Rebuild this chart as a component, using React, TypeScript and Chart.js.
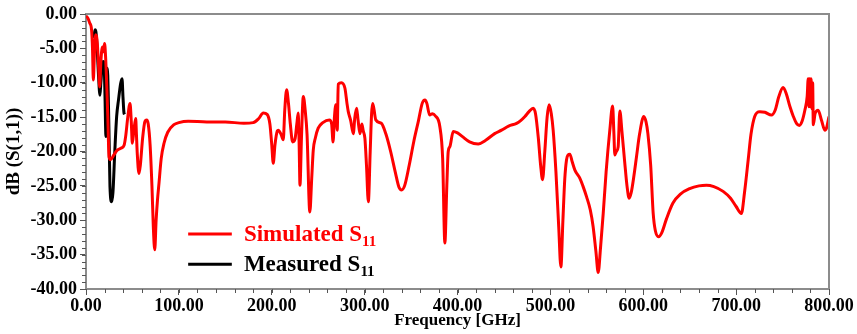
import React, { useEffect, useRef } from "react";
import { Chart, registerables } from "chart.js";

Chart.register(...registerables);

const simFreq = [
  0, 2, 4, 6, 7, 7.9, 9, 10.4, 11.3, 12.2, 13.5, 14.7, 16, 17.6, 18.8, 20, 21, 22, 23.5, 24.8,
  26.5, 30, 33.7, 38, 41, 42.7, 45, 47.4, 48.7, 49.9, 51.5, 53.5, 54.3, 55.2, 57, 58.5, 61, 63.5,
  65.3, 67, 69, 71, 72.5, 74, 75.5, 77, 78.6, 81, 84, 88, 94.7, 100, 110, 130, 150, 170, 180, 186,
  190.9, 195, 198, 200, 201.6, 203.5, 206, 207, 210, 212.4, 214, 216, 218, 220, 222.5, 225, 227,
  228.5, 229.5, 230.4, 232, 234, 236, 238, 241, 243, 244.7, 247, 250, 255, 262, 264.5, 266, 267.5,
  269, 270.5, 271.6, 275, 278.8, 281, 282.4, 285, 287.8, 289.5, 291.4, 293, 295, 297, 298.5, 300.3,
  302, 304, 306, 307.5, 308.6, 310, 312, 318, 323, 328, 333, 337, 339.8, 343, 348, 353, 358, 362,
  365, 367, 370, 373, 376, 381, 384, 386.4, 388.5, 390, 391.8, 395.4, 400, 405, 413, 422.3, 430,
  440, 447.4, 455, 463.6, 468, 472.6, 477, 481.5, 484, 487, 489.5, 491.6, 494, 496.5, 498.7, 501,
  503, 506, 509, 511.3, 513.5, 515.5, 517.4, 519, 521, 523.5, 526.4, 531.8, 535, 539, 543, 546,
  549, 551.5, 554, 556.9, 560, 564, 567, 568.3, 569.4, 571, 573, 574.8, 577, 580, 582.5, 584.8,
  587, 590, 592.7, 596, 600.6, 603, 605, 608, 610.7, 613, 616.5, 620, 625, 632, 640, 650, 660,
  668, 676, 686, 694, 700, 705.7, 709, 713, 716, 720, 725.5, 731, 738, 742, 746, 750.6, 754, 758,
  761.6, 765, 768, 771, 774, 776.5, 777.6, 778.4, 779.2, 780, 780.8, 781.6, 782.4, 783.1, 785,
  788.3, 792, 795.5, 797.5, 800,
];
const simDb = [
  -0.3, -0.6, -1.3, -2.3, -5, -9.6, -6, -3, -3.2, -4.3, -7.5, -10.6, -7, -4.8, -5.5, -4.3, -6, -9.1, -15, -20.8,
  -21.2, -20.5, -19.8, -19.5, -19.1, -17.8, -15, -13, -15.5, -18.8, -17, -15.2, -17.5, -20.3, -23.2, -22, -18, -15.6,
  -15.4, -16, -19, -25, -31, -34.3, -30, -27, -24.6, -21, -18.8, -17.2, -16.1, -15.8, -15.6, -15.7, -15.7, -15.9, -15.8, -15.2,
  -14.4, -14.6, -16, -19, -21.7, -19, -17, -16.9, -17.5, -18.3, -14, -11, -13, -16, -18.6, -18.2, -16,
  -14.4, -19, -24.9, -18, -12, -14, -17.5, -28.8, -24, -19.8, -18, -16.6, -15.8, -15.4, -16, -18.6, -15,
  -13.2, -16.9, -10.2, -10, -10.8, -13, -14.2, -15.5, -17.4, -15, -13.7, -15.5, -17.4, -16, -17, -18.1,
  -22, -27.3, -20, -14.5, -13, -13.8, -15.4, -15.9, -17.5, -20, -23, -25.2, -25.6, -25, -22, -18.5, -15.5, -13,
  -12.5, -13, -14.7, -14.5, -14.8, -16.4, -21, -33.3, -25, -20, -19.3, -17.1, -17.3, -17.8, -18.6, -18.9, -18.4,
  -17.4, -16.9, -16.3, -15.9, -15.5, -14.9, -14.2, -13.7, -14.5, -18, -22, -24.1, -20, -15, -13.2, -14.5,
  -16.9, -23, -31, -36.8, -30, -24, -21.2, -20.5, -20.4, -21.5, -22.7, -23.9, -25, -26.6, -28.5, -30.9,
  -34.5, -37.6, -34, -29, -23, -16.9, -13.4, -17, -20.5, -20, -19.3, -14.1, -17, -21.5, -25, -26.8,
  -26, -23.5, -20.8, -17.5, -14.9, -15.7, -17.4, -22, -29, -31.5, -32.4, -31.8, -29.8, -27.5, -26.2, -25.4, -25,
  -24.9, -25.1, -25.8, -26.8, -28, -29, -26, -21.2, -17.5, -14.9, -14.2, -14.3, -14.7, -14, -12, -10.7, -11.6, -13.5,
  -14.9, -15.9, -16.2, -15.6, -14, -12, -9.4, -13.5, -9.4, -13.5, -9.4, -13.8, -10, -16.1, -14.5,
  -14, -15.5, -16.9, -16.5, -14.9,
];

const measFreq = [
  8.5, 9.7, 10.7, 12, 13.5, 15, 16, 17.6, 18.6, 19.4, 20.3, 21.5, 22.2, 23, 24, 25, 25.8, 27.6,
  29, 31, 33, 35, 37.3, 38.8, 39.8, 40.9, 41.5,
];
const measDb = [
  -3.5, -2.3, -2.6, -5, -9, -11.8, -10, -7.2, -6.9, -7, -11, -17.8, -12, -7.9, -12, -19, -25.1, -27.3,
  -26, -20, -14.9, -12.5, -10.1, -9.4, -12, -14.4, -14.6,
];

const yTicks = [0, -5, -10, -15, -20, -25, -30, -35, -40];
const xTicks = [0, 100, 200, 300, 400, 500, 600, 700, 800];

const legendItems = [
  { label: "Simulated ", sub: "11", color: "#ff0000" },
  { label: "Measured ", sub: "11", color: "#000000" },
];

const AXIS_GRAY = "#8c8c8c";
const SERIF = "'Liberation Serif', 'Times New Roman', serif";

const framePlugin = {
  id: "frame",
  afterDraw(chart: any) {
    const { ctx, chartArea } = chart;
    const xs = chart.scales.x;
    const ys = chart.scales.y;
    ctx.save();
    ctx.strokeStyle = AXIS_GRAY;
    ctx.lineWidth = 2;
    ctx.beginPath();
    ctx.moveTo(chartArea.left, chartArea.top);
    ctx.lineTo(chartArea.right, chartArea.top);
    ctx.lineTo(chartArea.right, chartArea.bottom);
    ctx.stroke();
    // minor ticks
    ctx.lineWidth = 1;
    ctx.strokeStyle = "#555";
    ctx.beginPath();
    for (let v = -40; v <= 0; v += 1) {
      const py = Math.round(ys.getPixelForValue(v)) + 0.5;
      ctx.moveTo(chartArea.left - 4, py);
      ctx.lineTo(chartArea.left, py);
    }
    for (let v = 0; v <= 800; v += 20) {
      const px = Math.round(xs.getPixelForValue(v)) + 0.5;
      ctx.moveTo(px, chartArea.bottom);
      ctx.lineTo(px, chartArea.bottom + 4);
    }
    ctx.stroke();
    // legend
    const lx0 = xs.getPixelForValue(110);
    const lx1 = xs.getPixelForValue(157);
    const tx = xs.getPixelForValue(170);
    const rows = [-32, -36.4];
    legendItems.forEach((it, i) => {
      const py = ys.getPixelForValue(rows[i]);
      ctx.strokeStyle = it.color;
      ctx.lineWidth = 3;
      ctx.beginPath();
      ctx.moveTo(lx0, py);
      ctx.lineTo(lx1, py);
      ctx.stroke();
      ctx.fillStyle = it.color;
      ctx.textBaseline = "alphabetic";
      ctx.textAlign = "left";
      ctx.font = `bold 23px ${SERIF}`;
      const base = py + 7;
      ctx.fillText(it.label + "S", tx, base);
      const w = ctx.measureText(it.label + "S").width;
      ctx.font = `bold 15px ${SERIF}`;
      ctx.fillText(it.sub, tx + w, base + 5);
    });
    ctx.restore();
  },
};

export default function App() {
  const ref = useRef<HTMLCanvasElement | null>(null);
  useEffect(() => {
    if (!ref.current) return;
    const chart = new Chart(ref.current, {
      type: "line",
      data: {
        datasets: [
          {
            label: "Simulated S11",
            data: simFreq.map((f, i) => ({ x: f, y: simDb[i] })),
            borderColor: "#ff0000",
            borderWidth: 3,
            pointRadius: 0,
            cubicInterpolationMode: "monotone",
            fill: false,
          },
          {
            label: "Measured S11",
            data: measFreq.map((f, i) => ({ x: f, y: measDb[i] })),
            borderColor: "#000000",
            borderWidth: 3,
            pointRadius: 0,
            cubicInterpolationMode: "monotone",
            fill: false,
          },
        ],
      },
      options: {
        responsive: false,
        animation: false,
        layout: { padding: { left: 0, top: 14, right: 28, bottom: 0 } },
        plugins: {
          legend: { display: false },
          tooltip: { enabled: false },
        },
        scales: {
          x: {
            type: "linear",
            min: 0,
            max: 800,
            afterFit: (s: any) => {
              s.height = 45;
            },
            afterBuildTicks: (s: any) => {
              s.ticks = xTicks.map((v) => ({ value: v }));
            },
            ticks: {
              callback: (v: any) => Number(v).toFixed(2),
              color: "#000",
              font: { family: SERIF, size: 18, weight: "bold" },
              padding: 1,
              maxRotation: 0,
              autoSkip: false,
            },
            grid: {
              drawOnChartArea: false,
              tickLength: 6,
              color: "#555",
            },
            border: { color: AXIS_GRAY, width: 2 },
            title: {
              display: true,
              text: "Frequency [GHz]",
              color: "#000",
              font: { family: SERIF, size: 17, weight: "bold" },
              padding: { top: 0, bottom: 3 },
            },
          },
          y: {
            type: "linear",
            min: -40,
            max: 0,
            afterFit: (s: any) => {
              s.width = 86;
            },
            afterBuildTicks: (s: any) => {
              s.ticks = yTicks.map((v) => ({ value: v }));
            },
            ticks: {
              callback: (v: any) => Number(v).toFixed(2),
              color: "#000",
              font: { family: SERIF, size: 18, weight: "bold" },
              padding: 3,
              autoSkip: false,
            },
            grid: {
              drawOnChartArea: false,
              tickLength: 6,
              color: "#555",
            },
            border: { color: AXIS_GRAY, width: 2 },
            title: {
              display: true,
              text: "dB (S(1,1))",
              color: "#000",
              font: { family: SERIF, size: 19, weight: "bold" },
              padding: { top: 3, bottom: 0 },
            },
          },
        },
      },
      plugins: [framePlugin],
    });
    return () => chart.destroy();
  }, []);
  return (
    <div style={{ position: "absolute", left: 0, top: 0, width: 857, height: 334, background: "#fff" }}>
      <canvas ref={ref} width={857} height={334} style={{ display: "block" }} />
    </div>
  );
}
